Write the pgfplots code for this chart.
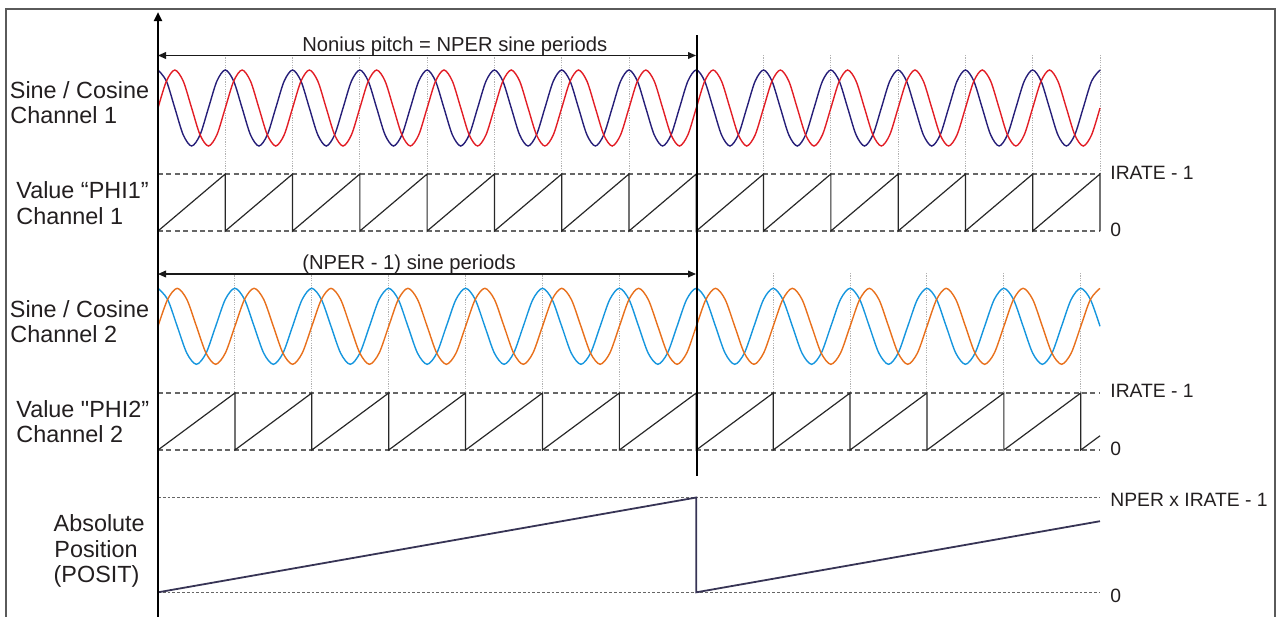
\documentclass[border=0pt]{standalone}
\usepackage{fontspec}
\setmainfont{Liberation Sans}[Ligatures=TeXOff]
\usepackage{pgfplots}
\pgfplotsset{compat=1.18}
\usepackage{pgfplotstable}
\usetikzlibrary{arrows.meta}

\definecolor{cAcos}{RGB}{38,30,120}
\definecolor{cAsin}{RGB}{226,30,38}
\definecolor{cBcos}{RGB}{22,150,222}
\definecolor{cBsin}{RGB}{232,112,28}
\definecolor{txt}{RGB}{35,31,32}
\definecolor{posc}{RGB}{55,52,85}
\definecolor{sawc}{RGB}{40,40,40}
\definecolor{framec}{RGB}{90,90,90}

% one sample every eighth of a sine period: k, cosine, sine
\pgfplotstableread[row sep=\\]{
k c s\\
0 1 0\\ 1 0.7071 0.7071\\ 2 0 1\\ 3 -0.7071 0.7071\\ 4 -1 0\\ 5 -0.7071 -0.7071\\ 6 0 -1\\ 7 0.7071 -0.7071\\
8 1 0\\ 9 0.7071 0.7071\\ 10 0 1\\ 11 -0.7071 0.7071\\ 12 -1 0\\ 13 -0.7071 -0.7071\\ 14 0 -1\\ 15 0.7071 -0.7071\\
16 1 0\\ 17 0.7071 0.7071\\ 18 0 1\\ 19 -0.7071 0.7071\\ 20 -1 0\\ 21 -0.7071 -0.7071\\ 22 0 -1\\ 23 0.7071 -0.7071\\
24 1 0\\ 25 0.7071 0.7071\\ 26 0 1\\ 27 -0.7071 0.7071\\ 28 -1 0\\ 29 -0.7071 -0.7071\\ 30 0 -1\\ 31 0.7071 -0.7071\\
32 1 0\\ 33 0.7071 0.7071\\ 34 0 1\\ 35 -0.7071 0.7071\\ 36 -1 0\\ 37 -0.7071 -0.7071\\ 38 0 -1\\ 39 0.7071 -0.7071\\
40 1 0\\ 41 0.7071 0.7071\\ 42 0 1\\ 43 -0.7071 0.7071\\ 44 -1 0\\ 45 -0.7071 -0.7071\\ 46 0 -1\\ 47 0.7071 -0.7071\\
48 1 0\\ 49 0.7071 0.7071\\ 50 0 1\\ 51 -0.7071 0.7071\\ 52 -1 0\\ 53 -0.7071 -0.7071\\ 54 0 -1\\ 55 0.7071 -0.7071\\
56 1 0\\ 57 0.7071 0.7071\\ 58 0 1\\ 59 -0.7071 0.7071\\ 60 -1 0\\ 61 -0.7071 -0.7071\\ 62 0 -1\\ 63 0.7071 -0.7071\\
64 1 0\\ 65 0.7071 0.7071\\ 66 0 1\\ 67 -0.7071 0.7071\\ 68 -1 0\\ 69 -0.7071 -0.7071\\ 70 0 -1\\ 71 0.7071 -0.7071\\
72 1 0\\ 73 0.7071 0.7071\\ 74 0 1\\ 75 -0.7071 0.7071\\ 76 -1 0\\ 77 -0.7071 -0.7071\\ 78 0 -1\\ 79 0.7071 -0.7071\\
80 1 0\\ 81 0.7071 0.7071\\ 82 0 1\\ 83 -0.7071 0.7071\\ 84 -1 0\\ 85 -0.7071 -0.7071\\ 86 0 -1\\ 87 0.7071 -0.7071\\
88 1 0\\ 89 0.7071 0.7071\\ 90 0 1\\ 91 -0.7071 0.7071\\ 92 -1 0\\ 93 -0.7071 -0.7071\\ 94 0 -1\\ 95 0.7071 -0.7071\\
96 1 0\\ 97 0.7071 0.7071\\ 98 0 1\\ 99 -0.7071 0.7071\\ 100 -1 0\\ 101 -0.7071 -0.7071\\ 102 0 -1\\ 103 0.7071 -0.7071\\
104 1 0\\ 105 0.7071 0.7071\\ 106 0 1\\ 107 -0.7071 0.7071\\ 108 -1 0\\ 109 -0.7071 -0.7071\\ 110 0 -1\\ 111 0.7071 -0.7071\\
112 1 0\\
}\wave

\pgfplotsset{band/.style={scale only axis, hide axis, xmin=0, xmax=14, width=471pt, clip=false, anchor=south west}}
\tikzset{
  dashl/.style={draw=black!60, line width=0.6pt, dash pattern=on 2.5pt off 1.7pt},
  dashp/.style={draw=black!60, line width=0.55pt, dash pattern=on 1.4pt off 1pt},
  gridl/.style={draw=black!30, line width=0.5pt, dash pattern=on 0.6pt off 0.6pt},
  arr/.style={line width=0.6pt, black!90}
}
\newcommand{\lbl}{\fontsize{11.7}{14}\selectfont}
\newcommand{\alb}{\fontsize{10.1}{12}\selectfont}
\newcommand{\rlb}{\fontsize{9.65}{12}\selectfont}

\begin{document}
\begin{tikzpicture}
\path[use as bounding box] (0pt,0pt) rectangle (641.5pt,-308pt);

\begin{scope}[x=0.5pt,y=-0.5pt]
\draw[framec, line width=0.7pt] (6,640) -- (6,9) -- (1275,9) -- (1275,640);
\foreach \i in {1,2,3,4,5,6,7,9,10,11,12,13,14}
  \draw[gridl] ({158+\i*67.2857},55) -- ({158+\i*67.2857},174);
\foreach \i in {1,2,3,4,5,6,8,9,10,11,12}
  \draw[gridl] ({158+\i*76.898},273) -- ({158+\i*76.898},393);
\end{scope}

% Sine / Cosine channel 1 (NPER = 8 periods per nonius pitch)
\begin{axis}[band, at={(79pt,-73pt)}, height=38pt, ymin=-1, ymax=1]
\addplot[cAcos, line width=0.7pt, smooth] table[x expr=\thisrow{k}/8, y=c] {\wave};
\addplot[cAsin, line width=0.7pt, smooth] table[x expr=\thisrow{k}/8, y=s] {\wave};
\end{axis}

% PHI1
\begin{axis}[band, at={(79pt,-115.5pt)}, height=28.5pt, ymin=0, ymax=1]
\draw[dashl] (axis cs:0,1) -- (axis cs:14,1);
\draw[dashl] (axis cs:0,0) -- (axis cs:14,0);
\addplot[sawc, line width=0.6pt] coordinates {(0,0)(1,1)(1,0)(2,1)(2,0)(3,1)(3,0)(4,1)(4,0)(5,1)(5,0)(6,1)(6,0)(7,1)(7,0)(8,1)(8,0)(9,1)(9,0)(10,1)(10,0)(11,1)(11,0)(12,1)(12,0)(13,1)(13,0)(14,1)(14,0)};
\end{axis}

% Sine / Cosine channel 2 (NPER - 1 = 7 periods)
\begin{axis}[band, at={(79pt,-182.15pt)}, height=38pt, ymin=-1, ymax=1]
\addplot[cBcos, line width=0.7pt, smooth, restrict x to domain=0:14.01] table[x expr=\thisrow{k}/7, y=c] {\wave};
\addplot[cBsin, line width=0.7pt, smooth, restrict x to domain=0:14.01] table[x expr=\thisrow{k}/7, y=s] {\wave};
\end{axis}

% PHI2
\begin{axis}[band, at={(79pt,-225pt)}, height=28.5pt, ymin=0, ymax=1]
\draw[dashl] (axis cs:0,1) -- (axis cs:14,1);
\draw[dashl] (axis cs:0,0) -- (axis cs:14,0);
\addplot[sawc, line width=0.6pt] coordinates {(0,0)(1.1429,1)(1.1429,0)(2.2857,1)(2.2857,0)(3.4286,1)(3.4286,0)(4.5714,1)(4.5714,0)(5.7143,1)(5.7143,0)(6.8571,1)(6.8571,0)(8,1)(8,0)(9.1429,1)(9.1429,0)(10.2857,1)(10.2857,0)(11.4286,1)(11.4286,0)(12.5714,1)(12.5714,0)(13.7143,1)(13.7143,0)(14,0.25)};
\end{axis}

% Absolute position
\begin{axis}[band, at={(79pt,-296.15pt)}, height=47.4pt, ymin=0, ymax=8]
\draw[dashp] (axis cs:0,8) -- (axis cs:14,8);
\draw[dashp] (axis cs:0,0) -- (axis cs:14,0);
\addplot[posc, line width=0.9pt] coordinates {(0,0)(8,8)(8,0)(14,6)};
\end{axis}

\begin{scope}[x=0.5pt,y=-0.5pt]
\draw[line width=1pt, black] (696.5,35) -- (696.5,476);
\draw[arr, {Triangle[length=4pt,width=3.4pt]}-{Triangle[length=4pt,width=3.4pt]}] (158,55.5) -- (696,55.5);
\draw[arr, {Triangle[length=4pt,width=3.4pt]}-{Triangle[length=4pt,width=3.4pt]}] (158,274) -- (696,274);
\draw[line width=1.2pt, black, -{Triangle[length=4.5pt,width=4pt]}] (158,640) -- (158,12);

\begin{scope}[every node/.style={inner sep=0pt, text=txt}]
\node[anchor=base west, font=\alb] at (302,51) {Nonius pitch = NPER sine periods};
\node[anchor=base west, font=\alb] at (302,269.5) {(NPER - 1) sine periods};

\node[anchor=base west, font=\lbl] at (9.5,98) {Sine / Cosine};
\node[anchor=base west, font=\lbl] at (10,123.5) {Channel 1};
\node[anchor=base west, font=\lbl] at (16,198.3) {Value “PHI1”};
\node[anchor=base west, font=\lbl] at (16,224) {Channel 1};
\node[anchor=base west, font=\lbl] at (9.5,317.3) {Sine / Cosine};
\node[anchor=base west, font=\lbl] at (10,342.5) {Channel 2};
\node[anchor=base west, font=\lbl] at (16,417) {Value "PHI2”};
\node[anchor=base west, font=\lbl] at (16,442.7) {Channel 2};
\node[anchor=base west, font=\lbl] at (53.3,531.7) {Absolute};
\node[anchor=base west, font=\lbl] at (54,557.3) {Position};
\node[anchor=base west, font=\lbl] at (53.3,582) {(POSIT)};

\node[anchor=base west, font=\rlb] at (1110,179) {IRATE - 1};
\node[anchor=base west, font=\rlb] at (1110,236) {0};
\node[anchor=base west, font=\rlb] at (1110,397.7) {IRATE - 1};
\node[anchor=base west, font=\rlb] at (1110,455) {0};
\node[anchor=base west, font=\rlb] at (1110,506.7) {NPER x IRATE - 1};
\node[anchor=base west, font=\rlb] at (1110,602) {0};
\end{scope}
\end{scope}
\end{tikzpicture}
\end{document}
